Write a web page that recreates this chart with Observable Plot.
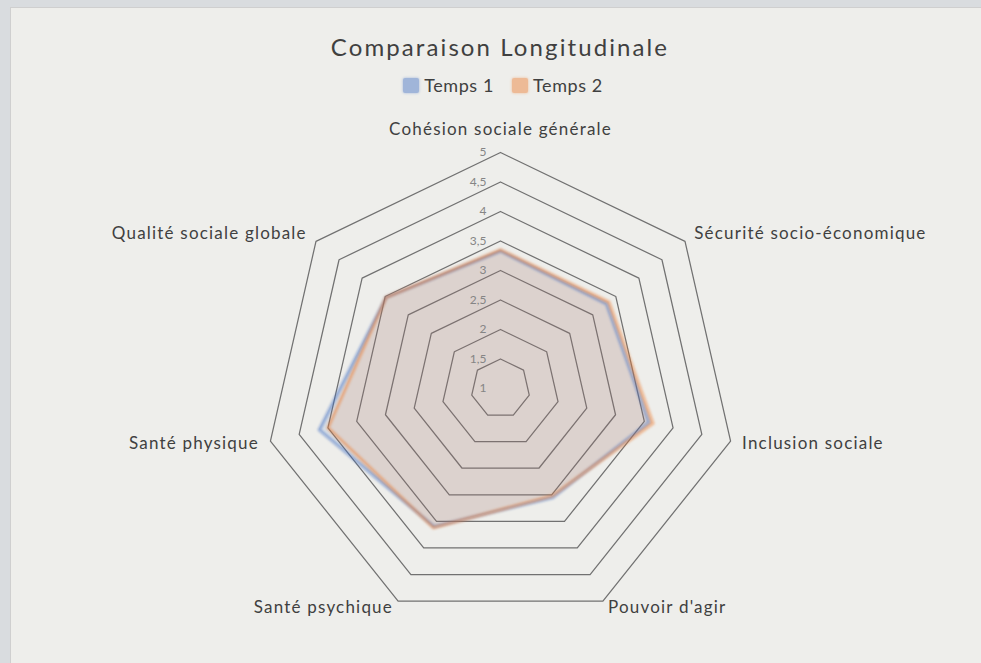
<!DOCTYPE html>
<html><head><meta charset="utf-8">
<script src="https://cdn.jsdelivr.net/npm/d3@7"></script>
<script src="https://cdn.jsdelivr.net/npm/@observablehq/plot@0.6"></script>
<style>
html,body{margin:0;padding:0}
body{width:981px;height:663px;overflow:hidden;background:#d9dcdf;font-family:Lato,"Open Sans",sans-serif;position:relative}
#panel{position:absolute;left:10px;top:7px;width:990px;height:680px;background:#eeeeeb;border-left:1px solid #cfcfcf;border-top:1px solid #cfcfcf}
#title{position:absolute;top:31px;left:0;width:1000px;text-align:center;font-size:24px;color:#404040;letter-spacing:2.1px;line-height:32px}
#legend{position:absolute;top:74px;left:3px;width:1000px;text-align:center;font-size:18px;color:#404040;letter-spacing:0.6px;line-height:22px}
#legend span.item{display:inline-flex;align-items:center;margin:0 9px}
#legend span.sw{display:inline-block;width:16px;height:15px;margin-right:5px;border-radius:2px}
#chart{position:absolute;left:0;top:100px}
</style>
</head><body>
<div id="panel"></div>
<div id="title">Comparaison Longitudinale</div>
<div id="legend"></div>
<div id="chart"></div>
<script>
const axes = ["Cohésion sociale générale","Sécurité socio-économique","Inclusion sociale","Pouvoir d'agir","Santé psychique","Santé physique","Qualité sociale globale"];
const seriesNames = ["Temps 1","Temps 2"];
const temps1 = [3.33, 3.30, 3.58, 3.05, 3.60, 4.15, 3.48];
const temps2 = [3.35, 3.35, 3.65, 3.02, 3.62, 4.00, 3.48];
const ringValues = [1.5, 2, 2.5, 3, 3.5, 4, 4.5, 5];
const tickValues = [1, 1.5, 2, 2.5, 3, 3.5, 4, 4.5, 5];
const tickLabels = ["1","1,5","2","2,5","3","3,5","4","4,5","5"];
const colors = ["#4472C4","#ED7D31"];

const n = axes.length;
const ang = k => -Math.PI/2 + k*2*Math.PI/n;
const px = (v,k) => (v-1)*Math.cos(ang(k));
const py = (v,k) => (v-1)*Math.sin(ang(k));

const rings = ringValues.flatMap(r => axes.map((a,k) => ({r, k})));
const series = [temps1, temps2].flatMap((vals,s) => vals.map((v,k) => ({s: seriesNames[s], v, k})));
const ticks = tickValues.map((v,i) => ({v, label: tickLabels[i]}));
const labelR = 5.2;
const labels = axes.map((a,k) => {
  const c = Math.cos(ang(k)), s = Math.sin(ang(k));
  return {a, k, side: Math.abs(c) < 0.1 ? "middle" : (c > 0 ? "start" : "end"), low: s > 0.8};
});

// legend
const leg = document.getElementById("legend");
seriesNames.forEach((s,i) => {
  const it = document.createElement("span"); it.className = "item";
  const sw = document.createElement("span"); sw.className = "sw";
  sw.style.background = colors[i]; sw.style.opacity = 0.45;
  sw.style.boxShadow = "0 0 3px " + colors[i];
  it.appendChild(sw); it.appendChild(document.createTextNode(s));
  leg.appendChild(it);
});

const W = 981, H = 563, cx = 500, cy = 288, unit = 59;
const lx = d => px(labelR,d.k), ly = d => py(labelR,d.k);
const lab = {x: lx, y: ly, text: "a", fill: "#404040", fontSize: 17};
const plot = Plot.plot({
  width: W, height: H, margin: 0,
  style: {background: "transparent", fontFamily: "Lato, 'Open Sans', sans-serif"},
  x: {domain: [-cx/unit, (W-cx)/unit], range: [0, W], axis: null},
  y: {domain: [-cy/unit, (H-cy)/unit], range: [0, H], axis: null},
  color: {domain: seriesNames, range: colors},
  marks: [
    Plot.line(rings, {x: d => px(d.r,d.k), y: d => py(d.r,d.k), z: "r", curve: "linear-closed", stroke: "#717171", strokeWidth: 1.25}),
    Plot.area(series.filter(d => d.s === seriesNames[0]), {x1: d => px(d.v,d.k), y1: d => py(d.v,d.k), x2: 0, y2: 0, fill: colors[0], fillOpacity: 0.12, curve: "linear-closed"}),
    Plot.area(series.filter(d => d.s === seriesNames[1]), {x1: d => px(d.v,d.k), y1: d => py(d.v,d.k), x2: 0, y2: 0, fill: colors[1], fillOpacity: 0.13, curve: "linear-closed"}),
    Plot.line(series, {x: d => px(d.v,d.k), y: d => py(d.v,d.k), z: "s", stroke: "s", strokeWidth: 3.5, strokeOpacity: 0.45, curve: "linear-closed"}),
    Plot.text(ticks, {x: 0, y: d => py(d.v,0), text: "label", textAnchor: "end", dx: -14, fill: "#858585", fontSize: 12}),
    Plot.text(labels.filter(d => d.side === "middle"), {...lab, textAnchor: "middle", lineAnchor: "bottom", dy: -6}),
    Plot.text(labels.filter(d => d.side === "start" && !d.low), {...lab, textAnchor: "start", lineAnchor: "middle"}),
    Plot.text(labels.filter(d => d.side === "end" && !d.low), {...lab, textAnchor: "end", lineAnchor: "middle"}),
    Plot.text(labels.filter(d => d.side === "start" && d.low), {...lab, textAnchor: "start", lineAnchor: "middle", dy: -4}),
    Plot.text(labels.filter(d => d.side === "end" && d.low), {...lab, textAnchor: "end", lineAnchor: "middle", dy: -4})
  ]
});
document.getElementById("chart").appendChild(plot);
d3.select(plot).selectAll("g[aria-label='line']").filter((d,i) => i === 1).style("filter", "blur(0.8px)");
d3.select(plot).selectAll("g[aria-label='text']").filter((d,i) => i >= 1).selectAll("text").style("letter-spacing", "1.2px");
</script>
</body></html>
